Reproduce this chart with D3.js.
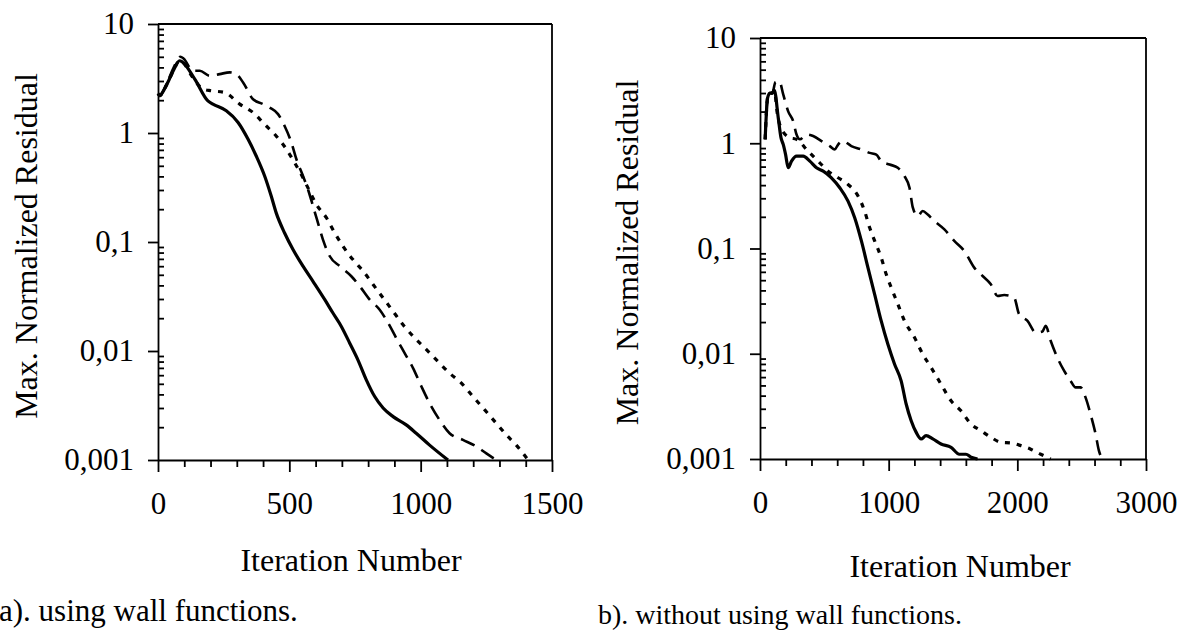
<!DOCTYPE html>
<html><head><meta charset="utf-8">
<script src="https://cdn.jsdelivr.net/npm/d3@7"></script>
<style>body{margin:0;background:#fff}svg{display:block}text{font-family:"Liberation Serif","Times New Roman",serif;fill:#000}</style>
</head><body><svg id="c" width="1184" height="638"></svg>
<script>
// ---------- data (iteration, max normalized residual) ----------
const decadeTicks = [10, 1, 0.1, 0.01, 0.001];
const decadeLabels = ["10", "1", "0,1", "0,01", "0,001"];
const xTicksA = [0, 500, 1000, 1500];
const xTicksB = [0, 1000, 2000, 3000];

// a) using wall functions
const aSolid = [[0,2.3],[8,2.2],[19,2.4],[40,3.0],[60,3.8],[82,4.6],[92,4.5],[140,3.12],[190,1.97],[209,1.84],[260,1.6],[305,1.25],[343,0.876],[374,0.615],[406,0.403],[431,0.264],[450,0.185],[482,0.121],[514,0.0853],[552,0.06],[590,0.0436],[635,0.0296],[666,0.0223],[698,0.0168],[730,0.0118],[761,0.0083],[793,0.00544],[825,0.00382],[857,0.003],[895,0.0025],[945,0.0021],[983,0.00176],[1034,0.00137],[1104,0.001]];
const aDash = [[0,2.3],[8,2.2],[19,2.4],[40,3.1],[60,4.0],[85,5.0],[98,4.8],[133,3.72],[159,3.72],[197,3.35],[235,3.47],[273,3.6],[298,3.47],[324,2.91],[362,2.04],[400,1.84],[425,1.71],[457,1.49],[482,1.16],[508,0.816],[527,0.574],[552,0.403],[571,0.304],[590,0.214],[609,0.15],[628,0.105],[654,0.074],[692,0.06],[736,0.0485],[768,0.0393],[806,0.0296],[844,0.0239],[876,0.0181],[907,0.01315],[939,0.00957],[971,0.00697],[1003,0.00472],[1034,0.00332],[1072,0.00233],[1110,0.00176],[1161,0.00153],[1212,0.00133],[1250,0.00115],[1288,0.001]];
const aDot = [[0,2.3],[8,2.2],[19,2.4],[40,3.0],[60,3.8],[82,4.6],[92,4.5],[130,3.3],[171,2.53],[203,2.44],[254,2.35],[311,1.84],[362,1.54],[406,1.2],[450,0.94],[489,0.709],[520,0.535],[552,0.389],[577,0.293],[603,0.221],[641,0.167],[673,0.121],[704,0.0916],[742,0.069],[781,0.054],[819,0.0407],[857,0.0307],[895,0.0231],[933,0.0174],[977,0.0132],[1022,0.0103],[1066,0.008],[1110,0.00627],[1155,0.00507],[1199,0.00382],[1244,0.00288],[1288,0.00217],[1326,0.0017],[1364,0.00137],[1409,0.001]];

// b) without using wall functions
const bSolid = [[40,1.09],[59,2.7],[77,3.0],[96,3.0],[111,3.2],[142,1.74],[163,1.13],[181,0.97],[199,0.78],[219,0.585],[245,0.676],[284,0.754],[336,0.754],[387,0.676],[439,0.585],[491,0.543],[555,0.47],[620,0.378],[684,0.282],[736,0.196],[788,0.118],[839,0.0658],[891,0.0367],[942,0.0205],[994,0.0123],[1046,0.00796],[1097,0.00553],[1136,0.00333],[1175,0.00231],[1214,0.00179],[1252,0.00155],[1291,0.00167],[1343,0.00155],[1407,0.00139],[1485,0.00129],[1549,0.00111],[1601,0.00111],[1640,0.00104],[1691,0.001]];
const bDash = [[40,1.09],[59,2.7],[77,3.0],[96,3.0],[120,3.8],[150,3.88],[181,2.9],[219,2.01],[258,1.62],[284,1.21],[310,1.09],[361,1.21],[413,1.17],[478,1.05],[542,0.94],[581,0.873],[607,0.972],[646,1.05],[710,0.94],[788,0.873],[852,0.81],[904,0.78],[942,0.676],[1007,0.628],[1071,0.585],[1123,0.487],[1162,0.378],[1188,0.244],[1226,0.203],[1265,0.227],[1304,0.21],[1356,0.182],[1433,0.152],[1510,0.118],[1588,0.0947],[1665,0.0658],[1730,0.0548],[1794,0.0457],[1846,0.0354],[1898,0.0362],[1975,0.0342],[2014,0.0237],[2079,0.0205],[2143,0.0159],[2195,0.0163],[2220,0.0184],[2259,0.0133],[2311,0.0092],[2363,0.0069],[2414,0.00553],[2453,0.00479],[2492,0.00479],[2530,0.00385],[2569,0.00267],[2608,0.00173],[2634,0.0012],[2660,0.001]];
const bDot = [[40,1.09],[59,2.7],[77,3.0],[96,3.0],[111,3.2],[135,1.9],[163,1.4],[232,1.13],[284,1.09],[374,0.841],[452,0.676],[529,0.543],[607,0.47],[684,0.406],[762,0.315],[813,0.227],[852,0.158],[891,0.118],[942,0.0818],[981,0.0569],[1020,0.0425],[1072,0.0295],[1123,0.0205],[1201,0.01426],[1265,0.0099],[1330,0.0074],[1407,0.00514],[1485,0.00357],[1562,0.00287],[1640,0.00215],[1717,0.00186],[1794,0.00161],[1872,0.00144],[1949,0.00142],[2027,0.00134],[2104,0.00124],[2182,0.00111],[2259,0.001]];

const panels = [
  {x0:158, x1:552, yTop:24, yBot:460, xMax:1500, xMajor:xTicksA, minorStep:100,
   series:[aSolid,aDash,aDot], ylabX:30, xlabX:351, xlabY:571, caption:"a). using wall functions.", capX:-1, capY:621, capFS:31},
  {x0:760, x1:1146, yTop:38, yBot:459, xMax:3000, xMajor:xTicksB, minorStep:200,
   series:[bSolid,bDash,bDot], ylabX:631, xlabX:960, xlabY:577, caption:"b). without using wall functions.", capX:598, capY:624, capFS:28}
];
const styles = [
  {w:3.2, dash:null},
  {w:2.6, dash:"15,8"},
  {w:3.2, dash:"5,7"}
];

const svg = d3.select("#c");
const FS = 31, LFS = 32;

panels.forEach(p => {
  const x = d3.scaleLinear().domain([0, p.xMax]).range([p.x0, p.x1]);
  const y = d3.scaleLog().domain([0.001, 10]).range([p.yBot, p.yTop]);
  const g = svg.append("g");

  const minorX = d3.range(0, p.xMax + 1, p.minorStep).filter(v => !p.xMajor.includes(v));
  const minorY = [];
  [0.001, 0.01, 0.1, 1].forEach(d => { for (let k = 2; k <= 9; k++) minorY.push(d * k); });

  g.append("g").attr("transform", `translate(0,${p.yBot})`)
    .call(d3.axisBottom(x).tickValues(minorX).tickSize(7).tickFormat(""))
    .call(s => s.select(".domain").remove());
  g.append("g").attr("transform", `translate(0,${p.yBot})`)
    .call(d3.axisBottom(x).tickValues(p.xMajor).tickSize(12).tickPadding(20).tickSizeOuter(0).tickFormat(d3.format("d")))
    .call(s => s.selectAll("text").attr("font-size", FS));
  g.append("g").attr("transform", `translate(${p.x0},0)`)
    .call(d3.axisRight(y).tickValues(minorY).tickSize(6).tickFormat(""))
    .call(s => s.select(".domain").remove());
  g.append("g").attr("transform", `translate(${p.x0},0)`)
    .call(d3.axisLeft(y).tickValues(decadeTicks).tickSize(10).tickPadding(14).tickSizeOuter(0)
      .tickFormat((d, i) => decadeLabels[i]))
    .call(s => s.selectAll("text").attr("font-size", FS));
  g.selectAll(".domain, .tick line").attr("stroke", "#000").attr("stroke-width", 1.8);

  g.append("line").attr("x1", p.x0).attr("x2", p.x1).attr("y1", p.yTop).attr("y2", p.yTop).attr("stroke", "#000").attr("stroke-width", 1.8);
  g.append("line").attr("x1", p.x1).attr("x2", p.x1).attr("y1", p.yTop).attr("y2", p.yBot).attr("stroke", "#000").attr("stroke-width", 1.8);

  const line = d3.line().x(d => x(d[0])).y(d => y(d[1])).curve(d3.curveMonotoneX);
  p.series.forEach((s, i) => {
    g.append("path").datum(s).attr("d", line).attr("fill", "none").attr("stroke", "#000")
      .attr("stroke-width", styles[i].w).attr("stroke-linejoin", "round")
      .attr("stroke-dasharray", styles[i].dash);
  });

  g.append("text").attr("transform", `translate(${p.ylabX},${(p.yTop + p.yBot) / 2 + 4}) rotate(-90)`)
    .attr("text-anchor", "middle").attr("dominant-baseline", "middle").attr("font-size", LFS)
    .text("Max. Normalized Residual");
  g.append("text").attr("x", p.xlabX).attr("y", p.xlabY).attr("text-anchor", "middle").attr("font-size", LFS)
    .text("Iteration Number");
  g.append("text").attr("x", p.capX).attr("y", p.capY).attr("font-size", p.capFS)
    .text(p.caption);
});
</script></body></html>
